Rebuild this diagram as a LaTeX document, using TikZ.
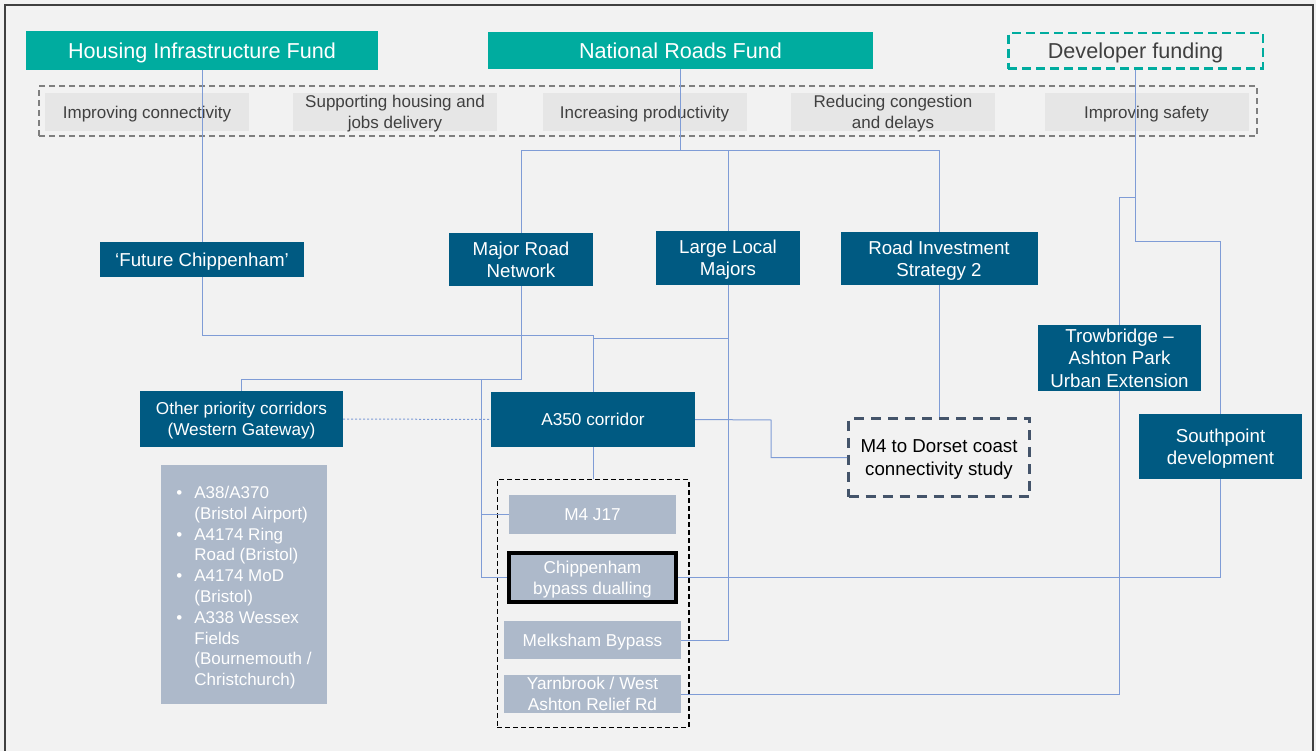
\documentclass[tikz,border=0pt]{standalone}
\usepackage{fontspec}
\setmainfont{Liberation Sans}

\definecolor{cBg}{HTML}{F2F2F2}
\definecolor{cFrame}{HTML}{404040}
\definecolor{cTeal}{HTML}{00AC9F}
\definecolor{cBlue}{HTML}{005A82}
\definecolor{cGrey}{HTML}{ADB9CA}
\definecolor{cObj}{HTML}{E6E6E6}
\definecolor{cText}{HTML}{404040}
\definecolor{cDash}{HTML}{7F7F7F}
\definecolor{cSlate}{HTML}{44546A}
\definecolor{cLine}{HTML}{7F9CD6}

\begin{document}
\begin{tikzpicture}[x=1pt,y=-1pt,
  fund/.style={fill=cTeal, text=white, inner sep=0pt, text depth=0pt,
    font=\fontsize{21.6}{26}\selectfont},
  goal/.style={fill=cObj, text=cText, minimum width=204pt, minimum height=38pt,
    inner sep=0pt, text depth=0pt, align=center, font=\fontsize{17}{21}\selectfont},
  prog/.style={fill=cBlue, text=white, inner sep=0pt, text depth=0pt, align=center,
    font=\fontsize{18.7}{22.3}\selectfont},
  progsmall/.style={prog, font=\fontsize{17.2}{21}\selectfont},
  scheme/.style={fill=cGrey, text=white, inner sep=0pt, text depth=0pt, align=center,
    font=\fontsize{17.2}{21}\selectfont},
  link/.style={draw=cLine, line width=1pt},
]
\useasboundingbox (0,0) rectangle (1316,751);
\fill[cBg] (0,0) rectangle (1316,751);
\draw[cFrame, line width=2pt] (5,760) -- (5,5) -- (1313,5) -- (1313,760);

% funding sources
\node[fund, minimum width=352pt, minimum height=39pt] (hif) at (202,50.5) {Housing Infrastructure Fund};
\node[fund, minimum width=385pt, minimum height=37pt] (nrf) at (680.5,50.5) {National Roads Fund};
\node[draw=cTeal, line width=2.5pt, dash pattern=on 9pt off 5pt, text=cText,
  minimum width=254.5pt, minimum height=35.5pt, inner sep=0pt, text depth=0pt,
  font=\fontsize{21.6}{26}\selectfont] (dev) at (1135.5,51) {Developer funding};

% objectives
\node[draw=cDash, line width=1.2pt, dash pattern=on 6pt off 4pt,
  minimum width=1218pt, minimum height=50pt, inner sep=0pt] (goals) at (648,111) {};
\node[goal] (g1) at (147,112) {Improving connectivity};
\node[goal] (g2) at (395,112) {Supporting housing and\\jobs delivery};
\node[goal] (g3) at (644.5,112) {Increasing productivity};
\node[goal] (g4) at (893,112) {Reducing congestion\\and delays};
\node[goal] (g5) at (1146.5,112) {Improving safety};

% programmes
\node[prog, minimum width=204pt, minimum height=35pt] (fc) at (202,259.5) {‘Future Chippenham’};
\node[prog, minimum width=144pt, minimum height=53pt] (mrn) at (521,259.5) {Major Road\\Network};
\node[prog, minimum width=144pt, minimum height=54pt] (llm) at (728,258) {Large Local\\Majors};
\node[prog, minimum width=197pt, minimum height=53pt] (ris) at (939,258.5) {Road Investment\\Strategy 2};
\node[prog, minimum width=163pt, minimum height=66pt] (trow) at (1119.5,358) {Trowbridge –\\Ashton Park\\Urban Extension};
\node[prog, minimum width=163pt, minimum height=65pt] (south) at (1220.5,446.5) {Southpoint\\development};
\node[progsmall, minimum width=203pt, minimum height=56pt] (opc) at (241.5,419) {Other priority corridors\\(Western Gateway)};
\node[progsmall, minimum width=204pt, minimum height=55pt] (a350) at (593,419.5) {A350 corridor};

\node[draw=cSlate, line width=2.8pt, dash pattern=on 10pt off 7pt, text=black,
  minimum width=181pt, minimum height=78pt, inner sep=0pt, text depth=0pt, align=center,
  font=\fontsize{18.7}{22.3}\selectfont] (m4d) at (939,457.5) {M4 to Dorset coast\\connectivity study};

% other corridors list
\node[fill=cGrey, minimum width=166pt, minimum height=239pt, inner sep=0pt] (list) at (244,584.5) {};
\node[text=white, inner sep=0pt, font=\fontsize{17}{20.8}\selectfont]
  (listtext) at ([yshift=-3.5pt]list.center) {%
  \begin{tabular}{@{}l@{\hspace{12pt}}l@{}}
  • & A38/A370\\
    & (Bristol Airport)\\
  • & A4174 Ring\\
    & Road (Bristol)\\
  • & A4174 MoD\\
    & (Bristol)\\
  • & A338 Wessex\\
    & Fields\\
    & (Bournemouth /\\
    & Christchurch)
  \end{tabular}};

% A350 schemes
\node[draw=black, line width=1.4pt, dash pattern=on 5pt off 3pt,
  minimum width=191.6pt, minimum height=247.6pt, inner sep=0pt] (grp) at (593,603.5) {};
\node[scheme, minimum width=167pt, minimum height=39pt] (j17) at (592.5,514.5) {M4 J17};
\node[scheme, draw=black, line width=3.5pt, minimum width=167pt, minimum height=49pt] (chip) at (592.5,577.5) {Chippenham\\bypass dualling};
\node[scheme, minimum width=177pt, minimum height=38pt] (melk) at (592.5,640) {Melksham Bypass};
\node[scheme, minimum width=177pt, minimum height=38pt] (yarn) at (592.5,694) {Yarnbrook / West\\Ashton Relief Rd};

% junction points
\coordinate (nj) at (680.5,151);
\coordinate (fj) at (202,335);
\coordinate (mj) at (521,379);
\coordinate (mk) at (481,379);
\coordinate (lj) at (728,338);
\coordinate (aj) at (771,420);
\coordinate (dj) at (1135.5,242);
\coordinate (dk) at (1135.5,198);

% connectors
\draw[link] (hif.south) -- (fc.north);
\draw[link] (nrf.south) -- (nj);
\draw[link] (nj) -| (mrn.north);
\draw[link] (nj) -| (llm.north);
\draw[link] (nj) -| (ris.north);
\draw[link] (fc.south) -- (fj) -| (a350.north);
\draw[link] (mrn.south) -- (mj) -| (opc.north);
\draw[link] (mk) |- (j17.west);
\draw[link] (mk) |- (chip.west);
\draw[link] (llm.south) |- (melk.east);
\draw[link] (lj) -| (a350.north);
\draw[link] (ris.south) -- (m4d.north);
\draw[link] (a350.east) -- (aj) |- (m4d.west);
\draw[link, dash pattern=on 2pt off 2pt] (opc.east) -- (a350.west);
\draw[link] (a350.south) -- (grp.north);
\draw[link] (dev.south) -- (dj) -| (south.north);
\draw[link] (dk) -| (trow.north);
\draw[link] (trow.south) |- (yarn.east);
\draw[link] (south.south) |- (chip.east);
\end{tikzpicture}
\end{document}
